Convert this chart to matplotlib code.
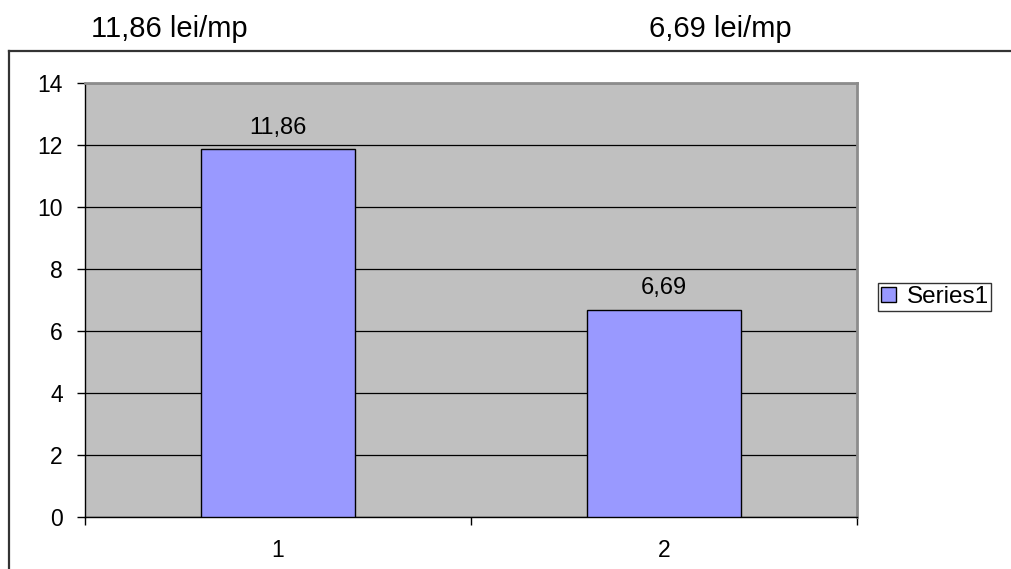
import matplotlib.pyplot as plt
from matplotlib.patches import Patch
from matplotlib.lines import Line2D

# Data
categories = [1, 2]
values = [11.86, 6.69]
value_labels = ['11,86', '6,69']
top_titles = ['11,86 lei/mp', '6,69 lei/mp']
series_name = 'Series1'

plt.rcParams['font.family'] = ['Liberation Sans', 'DejaVu Sans']

fig = plt.figure(figsize=(10.11, 5.69), dpi=100)
W, H = 1011, 569

# outer chart frame (top + left edges, rest is cut off)
fig.add_artist(Line2D([9 / W, 1.0], [1 - 51 / H, 1 - 51 / H], color='#333333', lw=1.6))
fig.add_artist(Line2D([9 / W, 9 / W], [0, 1 - 51 / H], color='#333333', lw=1.6))

ax = fig.add_axes([85 / W, 52 / H, (857 - 85) / W, (517 - 83) / H])
ax.set_facecolor('#C0C0C0')

bars = ax.bar(categories, values, width=0.4, color='#9999FF', edgecolor='black',
              linewidth=1, zorder=3)

ax.set_xlim(0.5, 2.5)
ax.set_ylim(0, 14)
ax.set_yticks(range(0, 15, 2))
ax.yaxis.grid(True, color='black', linewidth=0.9, zorder=1)
ax.set_axisbelow(True)

# category boundaries get tick marks, labels sit at the centres
ax.set_xticks([0.5, 1.5, 2.5], minor=True)
ax.set_xticks(categories)
ax.set_xticklabels([str(c) for c in categories])
ax.tick_params(axis='x', which='major', length=0, pad=16, labelsize=16.5)
ax.tick_params(axis='x', which='minor', length=6, width=1, direction='out')
ax.tick_params(axis='y', length=6, width=1, direction='out', pad=10, labelsize=16.5)

for side in ['left', 'bottom']:
    ax.spines[side].set_color('black')
    ax.spines[side].set_linewidth(1)
for side in ['top', 'right']:
    ax.spines[side].set_color('#8C8C8C')
    ax.spines[side].set_linewidth(2)

for b, lab in zip(bars, value_labels):
    ax.text(b.get_x() + b.get_width() / 2, b.get_height() + 0.34, lab,
            ha='center', va='bottom', fontsize=17)

# titles above each bar group
fig.text(169 / W, 1 - 29 / H, top_titles[0], ha='center', va='center', fontsize=21)
fig.text(720 / W, 1 - 29 / H, top_titles[1], ha='center', va='center', fontsize=21)

leg = fig.legend(handles=[Patch(facecolor='#9999FF', edgecolor='black', label=series_name)],
                 loc='upper left', bbox_to_anchor=(878 / W, 1 - 283 / H),
                 fontsize=17.5, frameon=True, fancybox=False, borderpad=0.12,
                 handlelength=0.6, handleheight=0.6, handletextpad=0.45,
                 borderaxespad=0)
leg.get_frame().set_edgecolor('black')
leg.get_frame().set_linewidth(1)

fig.savefig('out.png', dpi=100)
plt.close()
